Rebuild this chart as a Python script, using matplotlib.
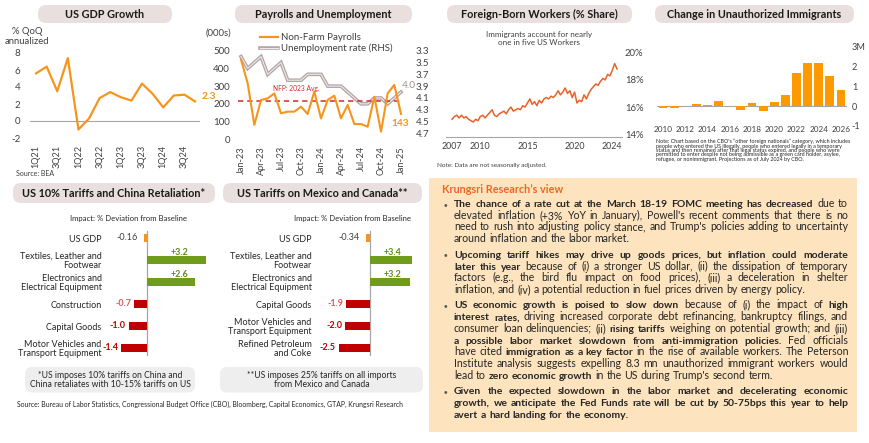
import numpy as np
import matplotlib.pyplot as plt
from matplotlib.patches import FancyBboxPatch, Rectangle
from matplotlib.lines import Line2D
from matplotlib.transforms import IdentityTransform

plt.rcParams['font.family'] = ['Lato', 'DejaVu Sans']
plt.rcParams['axes.unicode_minus'] = False

# ---------------- data ----------------
gdp_quarters = ['1Q21', '2Q21', '3Q21', '4Q21', '1Q22', '2Q22', '3Q22', '4Q22',
                '1Q23', '2Q23', '3Q23', '4Q23', '1Q24', '2Q24', '3Q24', '4Q24']
gdp_growth = [5.6, 6.4, 3.5, 7.4, -1.0, 0.3, 2.7, 3.4, 2.8, 2.4, 4.4, 3.2, 1.6, 3.0, 3.1, 2.3]

pay_months = ['Jan-23', 'Feb-23', 'Mar-23', 'Apr-23', 'May-23', 'Jun-23', 'Jul-23', 'Aug-23',
              'Sep-23', 'Oct-23', 'Nov-23', 'Dec-23', 'Jan-24', 'Feb-24', 'Mar-24', 'Apr-24',
              'May-24', 'Jun-24', 'Jul-24', 'Aug-24', 'Sep-24', 'Oct-24', 'Nov-24', 'Dec-24', 'Jan-25']
nfp = [451, 316, 81, 222, 231, 259, 147, 156, 156, 184, 143, 269, 118, 222, 246, 118,
       194, 86, 86, 71, 240, 43, 259, 307, 143]
unemp = [3.4, 3.6, 3.5, 3.4, 3.7, 3.6, 3.5, 3.8, 3.8, 3.8, 3.7, 3.7, 3.7, 3.9, 3.9, 3.9,
         4.0, 4.1, 4.2, 4.2, 4.1, 4.1, 4.2, 4.1, 4.0]
nfp_2023_avg = 216

# foreign-born share of workers, quarterly from 2007Q1
fb_share = [15.1, 15.3, 15.4, 15.2, 15.4, 15.2, 15.3, 15.1, 15.0, 14.9, 15.1, 15.0,
            15.3, 15.4, 15.2, 15.4, 15.6, 15.8, 15.4, 15.3, 15.5, 15.6, 15.7, 15.5,
            15.8, 16.0, 15.7, 15.8, 15.9, 15.8, 16.1, 16.0, 16.3, 16.6, 16.2, 16.4,
            16.1, 16.5, 16.3, 16.6, 16.7, 16.6, 16.8, 16.7, 16.9, 17.2, 16.9, 17.1,
            17.4, 17.0, 17.2, 16.7, 17.1, 16.3, 16.5, 16.4, 16.9, 16.6, 17.0, 17.3,
            17.5, 17.7, 17.6, 17.9, 18.1, 18.0, 18.4, 18.3, 18.7, 19.2, 18.8]

unauth_years = list(range(2010, 2027))
unauth_change = [-0.1, -0.1, 0.02, 0.08, 0.05, 0.25, 0.02, -0.2, 0.15, -0.25, 0.2, 0.55,
                 1.7, 2.2, 2.2, 1.55, 0.8]

china_cats = ['US GDP', 'Textiles, Leather and\nFootwear', 'Electronics and\nElectrical Equipment',
              'Construction', 'Capital Goods', 'Motor Vehicles and\nTransport Equipment']
china_vals = [-0.16, 3.2, 2.6, -0.7, -1.0, -1.4]
china_lbls = ['-0.16', '+3.2', '+2.6', '-0.7', '-1.0', '-1.4']

mex_cats = ['US GDP', 'Textiles, Leather and\nFootwear', 'Electronics and\nElectrical Equipment',
            'Capital Goods', 'Motor Vehicles and\nTransport Equipment', 'Refined Petroleum\nand Coke']
mex_vals = [-0.34, 3.4, 3.2, -1.9, -2.0, -2.5]
mex_lbls = ['-0.34', '+3.4', '+3.2', '-1.9', '-2.0', '-2.5']

unauth_note = [
    "Note: Chart based on the CBO's \u201cother foreign nationals\u201d category, which includes",
    "people who entered the US illegally, people who entered legally in a temporary",
    "status and then remained after that legal status expired, and people who were",
    "permitted to enter despite not being admissible as a green card holder, asylee,",
    "refugee, or nonimmigrant. Projections as of July 2024 by CBO.",
]

paras = [
    [[("The chance of a rate cut at the March 18-19 FOMC meeting has decreased", 1), (" due to", 0)],
     [("elevated inflation (+3% YoY in January), Powell's recent comments that there is no", 0)],
     [("need to rush into adjusting policy stance, and Trump's policies adding to uncertainty", 0)],
     [("around inflation and the labor market.", 0)]],
    [[("Upcoming tariff hikes may drive up goods prices, but inflation could moderate", 1)],
     [("later this year", 1), (" because of (i) a stronger US dollar, (ii) the dissipation of temporary", 0)],
     [("factors (e.g., the bird flu impact on food prices), (iii) a deceleration in shelter", 0)],
     [("inflation, and (iv) a potential reduction in fuel prices driven by energy policy.", 0)]],
    [[("US economic growth is poised to slow down", 1), (" because of (i) the impact of ", 0), ("high", 1)],
     [("interest rates,", 1), (" driving increased corporate debt refinancing, bankruptcy filings, and", 0)],
     [("consumer loan delinquencies; (ii) ", 0), ("rising tariffs", 1), (" weighing on potential growth; and (iii)", 0)],
     [("a possible labor market slowdown from anti-immigration policies.", 1), (" Fed officials", 0)],
     [("have cited ", 0), ("immigration as a key factor", 1), (" in the rise of available workers. The Peterson", 0)],
     [("Institute analysis suggests expelling 8.3 mn unauthorized immigrant workers would", 0)],
     [("lead to ", 0), ("zero economic growth", 1), (" in the US during Trump's second term.", 0)]],
    [[("Given the expected slowdown in the labor market and decelerating economic", 1)],
     [("growth, we anticipate the Fed Funds rate will be cut by 50-75bps this year to help", 1)],
     [("avert a hard landing for the economy.", 1)]],
]

# ---------------- layout helpers (pixels, y from top) ----------------
W, H = 870, 443
fig = plt.figure(figsize=(W / 100, H / 100), dpi=100)
IDT = IdentityTransform()

ORANGE = '#f7941d'
DARK = '#262626'
TICK = '#404040'
TITLE_BG = '#eadfdf'


def box(x0, y0, x1, y1):
    return [x0 / W, 1 - y1 / H, (x1 - x0) / W, (y1 - y0) / H]


def txt(x, y, s, **kw):
    return fig.text(x, H - y, s, transform=IDT, **kw)


def rbox(x0, y0, x1, y1, fc, r):
    p = FancyBboxPatch((x0, H - y1), x1 - x0, y1 - y0,
                       boxstyle=f'round,pad=0,rounding_size={r}',
                       transform=IDT, fc=fc, ec='none', zorder=0)
    fig.add_artist(p)


def title(x0, x1, y0, y1, s):
    rbox(x0, y0, x1, y1, TITLE_BG, 8)
    txt((x0 + x1) / 2, (y0 + y1) / 2 + 0.5, s, ha='center', va='center',
        fontsize=7.8, fontweight='bold', color='#1a1a1a')


def clean(ax, size=7):
    for sp in ax.spines.values():
        sp.set_visible(False)
    ax.patch.set_visible(False)
    ax.tick_params(length=0, labelsize=size, labelcolor=TICK)


# ---------------- US GDP growth ----------------
title(38, 172, 5, 23, 'US GDP Growth')
ax = fig.add_axes(box(30, 53, 200, 138))
clean(ax)
xg = np.arange(len(gdp_growth))
ax.axhline(0, color='#a6a6a6', lw=0.8)
ax.plot(xg, gdp_growth, color=ORANGE, lw=1.6)
ax.set_ylim(-2, 8)
ax.set_xlim(-0.57, 15.47)
ax.set_yticks([-2, 0, 2, 4, 6, 8])
ax.set_xticks(xg[::2])
ax.set_xticklabels(gdp_quarters[::2], rotation=90)
ax.tick_params(axis='y', pad=7)
ax.tick_params(axis='x', pad=5, labelsize=6.6)
ax.text(xg[-1] + 0.6, gdp_growth[-1] + 0.6, '2.3', color=ORANGE, fontsize=7.5,
        fontweight='bold', va='center')
txt(27, 36.5, '% QoQ\nannualized', ha='center', va='center', fontsize=6.8,
    color=TICK, linespacing=1.0)
txt(16, 174, 'Source: BEA', fontsize=5, color=TICK, va='center')

# ---------------- Payrolls and unemployment ----------------
title(235, 412, 5, 23, 'Payrolls and Unemployment')
axp = fig.add_axes(box(234, 50.7, 407, 139.3))
axr = axp.twinx()
clean(axp)
clean(axr)
xp = np.arange(len(nfp))
axr.plot(xp, unemp, color='#b3a4a4', lw=2.6, solid_joinstyle='miter')
axr.plot(xp, unemp, color='#eee9e9', lw=0.8, solid_joinstyle='miter')
axr.set_ylim(4.8, 3.3)
axr.set_yticks([3.3, 3.5, 3.7, 3.9, 4.1, 4.3, 4.5, 4.7])
axr.set_yticklabels([f'{v:.1f}' for v in [3.3, 3.5, 3.7, 3.9, 4.1, 4.3, 4.5, 4.7]])
axr.tick_params(axis='y', pad=6)
axp.set_zorder(axr.get_zorder() + 1)
axp.hlines(nfp_2023_avg, xp[0] - 0.5, xp[-1], color='#d9262b', lw=1.1, linestyles=(0, (3.5, 2.5)))
axp.plot(xp, nfp, color=ORANGE, lw=1.5)
axp.set_ylim(0, 500)
axp.set_xlim(-1.05, 24.9)
axp.set_yticks(range(0, 501, 100))
axp.set_xticks(xp[::3])
axp.set_xticklabels(pay_months[::3], rotation=90)
axp.tick_params(axis='y', pad=3)
axp.tick_params(axis='x', pad=5, labelsize=6.6)
txt(273, 89, 'NFP: 2023 Avg.', fontsize=4.8, color='#d9262b', va='center')
txt(402, 85, '4.0', fontsize=7.3, color='#a08f8f', va='center')
txt(400, 123, '143', fontsize=7.3, color=ORANGE, fontweight='bold', va='center', ha='center')
txt(218, 33, '(000s)', fontsize=6.8, color=TICK, va='center', ha='center')
fig.add_artist(Line2D([260, 278], [H - 37, H - 37], transform=IDT, color=ORANGE, lw=1.6))
fig.add_artist(Line2D([260, 278], [H - 48, H - 48], transform=IDT, color='#b3a4a4', lw=2.6))
fig.add_artist(Line2D([260, 278], [H - 48, H - 48], transform=IDT, color='#eee9e9', lw=0.8))
txt(281, 37, 'Non-Farm Payrolls', fontsize=7, color=TICK, va='center')
txt(281, 48, 'Unemployment rate (RHS)', fontsize=7, color=TICK, va='center')

# ---------------- Foreign-born workers ----------------
title(447, 632, 5, 23, 'Foreign-Born Workers (% Share)')
axf = fig.add_axes(box(446, 52.7, 622, 136.7))
clean(axf, 6.8)
axf.spines['bottom'].set_visible(True)
axf.spines['bottom'].set_color('#a6a6a6')
axf.spines['bottom'].set_linewidth(0.8)
yrs = 2007 + np.arange(len(fb_share)) / 4
axf.plot(yrs, fb_share, color='#e8622a', lw=1.1)
axf.set_ylim(13.82, 20)
axf.set_xlim(2006.36, 2025.03)
axf.yaxis.tick_right()
axf.set_yticks([14, 16, 18, 20])
axf.set_yticklabels(['14%', '16%', '18%', '20%'])
axf.set_xticks([2007, 2010, 2015, 2020, 2024])
axf.tick_params(axis='y', pad=2)
axf.tick_params(axis='x', pad=4, labelsize=6.4)
txt(539, 38.5, 'Immigrants account for nearly\none in five US Workers', ha='center', va='center',
    fontsize=5.8, color=TICK, linespacing=1.15)
txt(437, 165, 'Note: Data are not seasonally adjusted.', fontsize=4.6, color=TICK, va='center')

# ---------------- Unauthorized immigrants ----------------
title(655, 854, 5, 23, 'Change in Unauthorized Immigrants')
axu = fig.add_axes(box(657, 47, 847, 125.7))
clean(axu, 6.6)
axu.axhline(0, color='#a6a6a6', lw=0.8, zorder=0)
axu.bar(unauth_years, unauth_change, width=0.8, color='#ff9900', zorder=2)
axu.set_ylim(-1, 3)
axu.set_xlim(2009.46, 2026.54)
axu.yaxis.tick_right()
axu.set_yticks([-1, 0, 1, 2, 3])
axu.set_yticklabels(['-1', '0', '1', '2', '3M'])
axu.set_xticks(unauth_years[::2])
axu.tick_params(axis='y', pad=3.5)
axu.tick_params(axis='x', pad=0, labelsize=5.9)
for i, line in enumerate(unauth_note):
    txt(655.5, 141.7 + 4.4 * i, line, fontsize=3.9, color=DARK, va='center')


# ---------------- tariff panels ----------------
def tariff_panel(rect, zero_px, unit_px, x0_px, x1_px, cats, vals, lbls, light):
    ax = fig.add_axes(rect)
    clean(ax)
    ax.set_xlim(-(zero_px - x0_px) / unit_px, (x1_px - zero_px) / unit_px)
    ax.set_ylim(5.5, -0.5)
    ax.axvline(0, color='#a6a6a6', lw=0.9, ymin=0.03, ymax=0.97)
    ys = np.arange(len(vals))
    cols = [ORANGE if i == 0 else ('#6f9c1b' if v > 0 else '#c00000') for i, v in enumerate(vals)]
    hts = [0.36 if i == 0 else 0.4 for i in range(len(vals))]
    ax.barh(ys, vals, height=hts, color=cols, zorder=2)
    ax.set_xticks([])
    ax.set_yticks(ys)
    ax.set_yticklabels(cats, fontsize=6.5, color=DARK, linespacing=0.95)
    ax.tick_params(axis='y', pad=2.5)
    for i, (v, s) in enumerate(zip(vals, lbls)):
        if i == 0:
            ax.annotate(s, (v, i), xytext=(-4.5, 0), textcoords='offset points', ha='right',
                        va='center', fontsize=6.5, color=TICK)
        elif v > 0:
            ax.text(1.8, i - 0.36, s, ha='center', va='center', fontsize=6.5,
                    color='#5f8f15', fontweight='bold')
        else:
            c = '#e05a5a' if i in light else '#c00000'
            ax.annotate(s, (v, i), xytext=(-2.2, 0), textcoords='offset points', ha='right',
                        va='center', fontsize=6.5, color=c, fontweight='bold')
    return ax


title(13, 215, 183, 203, 'US 10% Tariffs and China Retaliation*')
tariff_panel(box(105, 227, 215, 359), 147, 18.3, 105, 215, china_cats, china_vals, china_lbls, [3])
txt(128, 219, 'Impact: % Deviation from Baseline', fontsize=5.6, color=DARK, ha='center', va='center')
rbox(25, 367, 195, 392.5, '#eeeeee', 7)
txt(110, 380, '*US imposes 10% tariffs on China and\nChina retaliates with 10-15% tariffs on US',
    fontsize=6.2, color=DARK, ha='center', va='center', linespacing=1.1)

title(223, 422, 183, 203, 'US Tariffs on Mexico and Canada**')
tariff_panel(box(315, 227, 425, 359), 370, 12.4, 315, 425, mex_cats, mex_vals, mex_lbls, [3])
txt(352, 219, 'Impact: % Deviation from Baseline', fontsize=5.6, color=DARK, ha='center', va='center')
rbox(220, 367, 423, 392.5, '#eeeeee', 7)
txt(321.5, 380, '**US imposes 25% tariffs on all imports\nfrom Mexico and Canada',
    fontsize=6.2, color=DARK, ha='center', va='center', linespacing=1.1)

txt(17, 404.5, 'Source: Bureau of Labor Statistics, Congressional Budget Office (CBO), Bloomberg, '
    'Capital Economics, GTAP, Krungsri Research', fontsize=4.95, color=DARK, va='center')

# ---------------- Krungsri view ----------------
fig.add_artist(Rectangle((429, H - 432), 428, 254, transform=IDT, fc='#fde4be', ec='none', zorder=0))
txt(441.5, 189.5, 'Krungsri Research\u2019s view', fontsize=7.8, fontweight='bold', color='#f26522',
    va='center')

FS_REG, FS_BOLD = 7.6, 7.5
TX0, TX1 = 454, 848
renderer = fig.canvas.get_renderer()


def measure(s, bold, scale=1.0):
    fs = (FS_BOLD if bold else FS_REG) * scale
    t = fig.text(0, 0, s, fontsize=fs, fontweight='bold' if bold else 'normal')
    w = t.get_window_extent(renderer).width
    t.remove()
    return w


def draw_line(y, segs, justify):
    words = [(w, b) for s, b in segs for w in s.split()]
    scale = 1.0
    while True:
        widths = [measure(w, b, scale) for w, b in words]
        space = (measure('a a', False, scale) - measure('aa', False, scale))
        if sum(widths) + space * (len(words) - 1) <= TX1 - TX0 or scale < 0.85:
            break
        scale -= 0.01
    gap = space
    if justify and len(words) > 1:
        gap = (TX1 - TX0 - sum(widths)) / (len(words) - 1)
    x = TX0
    for (w, b), wd in zip(words, widths):
        txt(x, y + 2.8, w, fontsize=(FS_BOLD if b else FS_REG) * scale,
            fontweight='bold' if b else 'normal', color=DARK, va='baseline')
        x += wd + gap


y = 204.3
for para in paras:
    txt(445.5, y, '\u25cf', fontsize=4.2, color='#595959', ha='center', va='center')
    for k, line in enumerate(para):
        draw_line(y, line, k < len(para) - 1)
        y += 11.7
    y += 3.9

fig.savefig('out.png', dpi=100)
